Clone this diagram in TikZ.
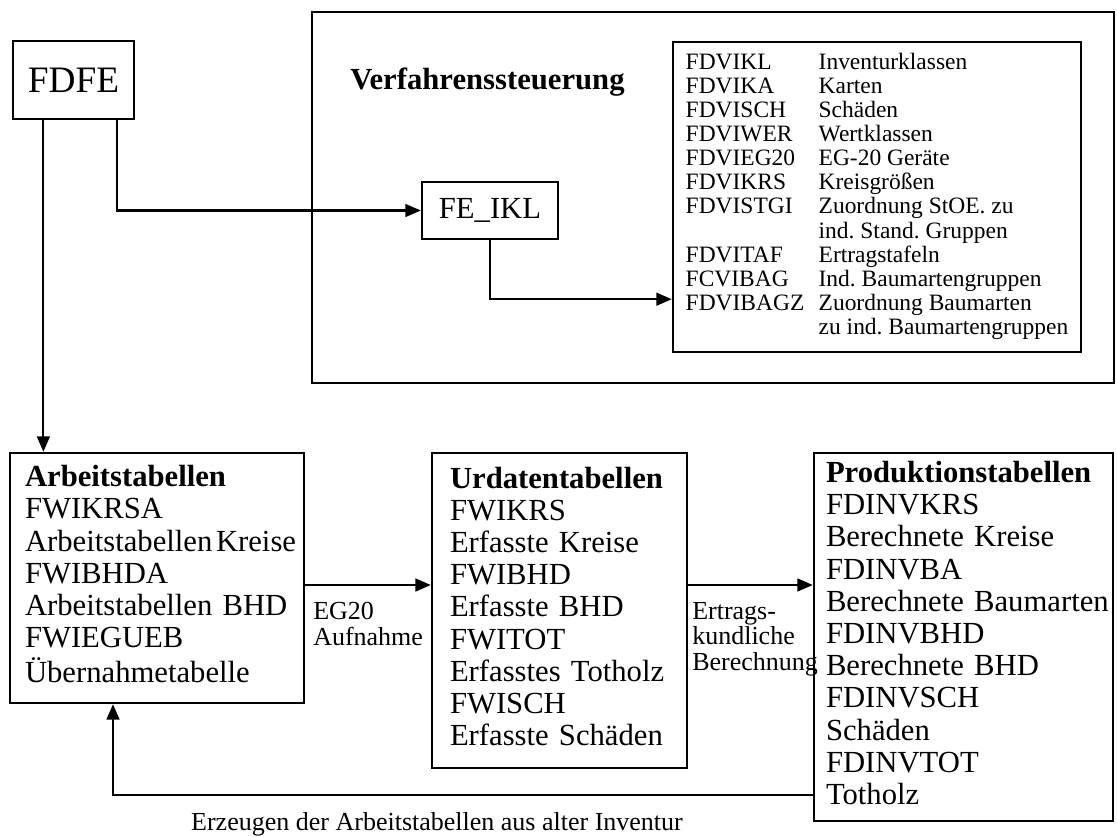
\documentclass[tikz,border=0pt]{standalone}
\usepackage{fontspec}
\setmainfont{Liberation Serif}
\usetikzlibrary{arrows.meta,calc}
\frenchspacing

\begin{document}
\begin{tikzpicture}[x=0.75pt, y=-0.75pt,
  box/.style={draw, line width=1.8pt, inner sep=0pt},
  tab/.style={box, align=left, font=\fontsize{23}{24.15}\selectfont},
  lab/.style={inner sep=0pt, align=left, font=\fontsize{19.5}{19.2}\selectfont},
  arr/.style={-{Triangle[length=11.5pt, width=9.5pt]}, line width=1.6pt}]
\useasboundingbox (0,0) rectangle (1117,837);

% Verfahrenssteuerung
\node[box, minimum width=601.5pt, minimum height=278.25pt] at (713,197.5) (ctrl) {};
\node[anchor=base west, inner sep=0pt, font=\fontsize{23}{24.15}\selectfont\bfseries] at (350,90) (title) {Verfahrenssteuerung};
\node[box, minimum width=90.75pt, minimum height=58.5pt, font=\fontsize{28}{28}\selectfont] at (73.5,80) (fdfe) {FDFE};
\node[box, minimum width=102pt, minimum height=42.75pt, font=\fontsize{23}{23}\selectfont] at (490,210.5) (feikl) {FE\_IKL};
\node[box, minimum width=306pt, minimum height=232.5pt, font=\fontsize{17.6}{18.1}\selectfont] at (877,197) (list) {%
  \begin{tabular}{@{}p{99.75pt}@{}l@{}}
  FDVIKL & Inventurklassen\\
  FDVIKA & Karten\\
  FDVISCH & Schäden\\
  FDVIWER & Wertklassen\\
  FDVIEG20 & EG-20 Geräte\\
  FDVIKRS & Kreisgrößen\\
  FDVISTGI & Zuordnung StOE. zu\\
  & ind. Stand. Gruppen\\
  FDVITAF & Ertragstafeln\\
  FCVIBAG & Ind. Baumartengruppen\\
  FDVIBAGZ & Zuordnung Baumarten\\
  & zu ind. Baumartengruppen
  \end{tabular}};

% Tabellen
\node[tab, minimum width=220.5pt, minimum height=187.5pt, text width=198pt, inner xsep=11.25pt] at (157,578) (arb) {%
  \begin{tabular}{@{}l@{}}
  \textbf{Arbeitstabellen}\\FWIKRSA\\Arbeitstabellen\hspace{0.12em}Kreise\\FWIBHDA\\Arbeitstabellen BHD\\FWIEGUEB\\Übernahmetabelle
  \end{tabular}};
\node[tab, minimum width=191.25pt, minimum height=236.25pt, text width=164.25pt, inner xsep=13.5pt] at (559.5,610.5) (urd) {%
  \begin{tabular}{@{}l@{}}
  \textbf{Urdatentabellen}\\FWIKRS\\Erfasste Kreise\\FWIBHD\\Erfasste BHD\\FWITOT\\Erfasstes Totholz\\FWISCH\\Erfasste Schäden
  \end{tabular}};
\node[tab, minimum width=224.25pt, minimum height=276pt, text width=206.25pt, inner xsep=9pt] at (963.5,637) (prod) {%
  \begin{tabular}{@{}l@{}}
  \textbf{Produktionstabellen}\\FDINVKRS\\Berechnete Kreise\\FDINVBA\\Berechnete Baumarten\\FDINVBHD\\Berechnete BHD\\FDINVSCH\\Schäden\\FDINVTOT\\Totholz
  \end{tabular}};

\coordinate (fdfe-r) at ($(fdfe.south west)!0.85!(fdfe.south east)$);
\coordinate (fdfe-l) at ($(fdfe.south west)!0.256!(fdfe.south east)$);
\coordinate (row) at (0,585);
\coordinate (back) at (113,795);

\draw[arr] (fdfe-r) |- (feikl.west);
\draw[arr] (fdfe-l) -- (fdfe-l |- arb.north);
\draw[arr] (feikl.south) |- ([yshift=40.5pt]list.south west);
\draw[arr] (arb.east |- row) -- (urd.west |- row);
\draw[arr] (urd.east |- row) -- (prod.west |- row);
\draw[arr] (prod.west |- back) -- (back) -- (back |- arb.south);

\node[lab, anchor=north west] at (313,602) (eg) {EG20\\Aufnahme};
\node[lab, anchor=north west] at (692,602) (ber) {Ertrags-\\kundliche\\Berechnung};
\node[lab, anchor=base] at (437,830) (erz) {Erzeugen der Arbeitstabellen aus alter Inventur};
\end{tikzpicture}
\end{document}
